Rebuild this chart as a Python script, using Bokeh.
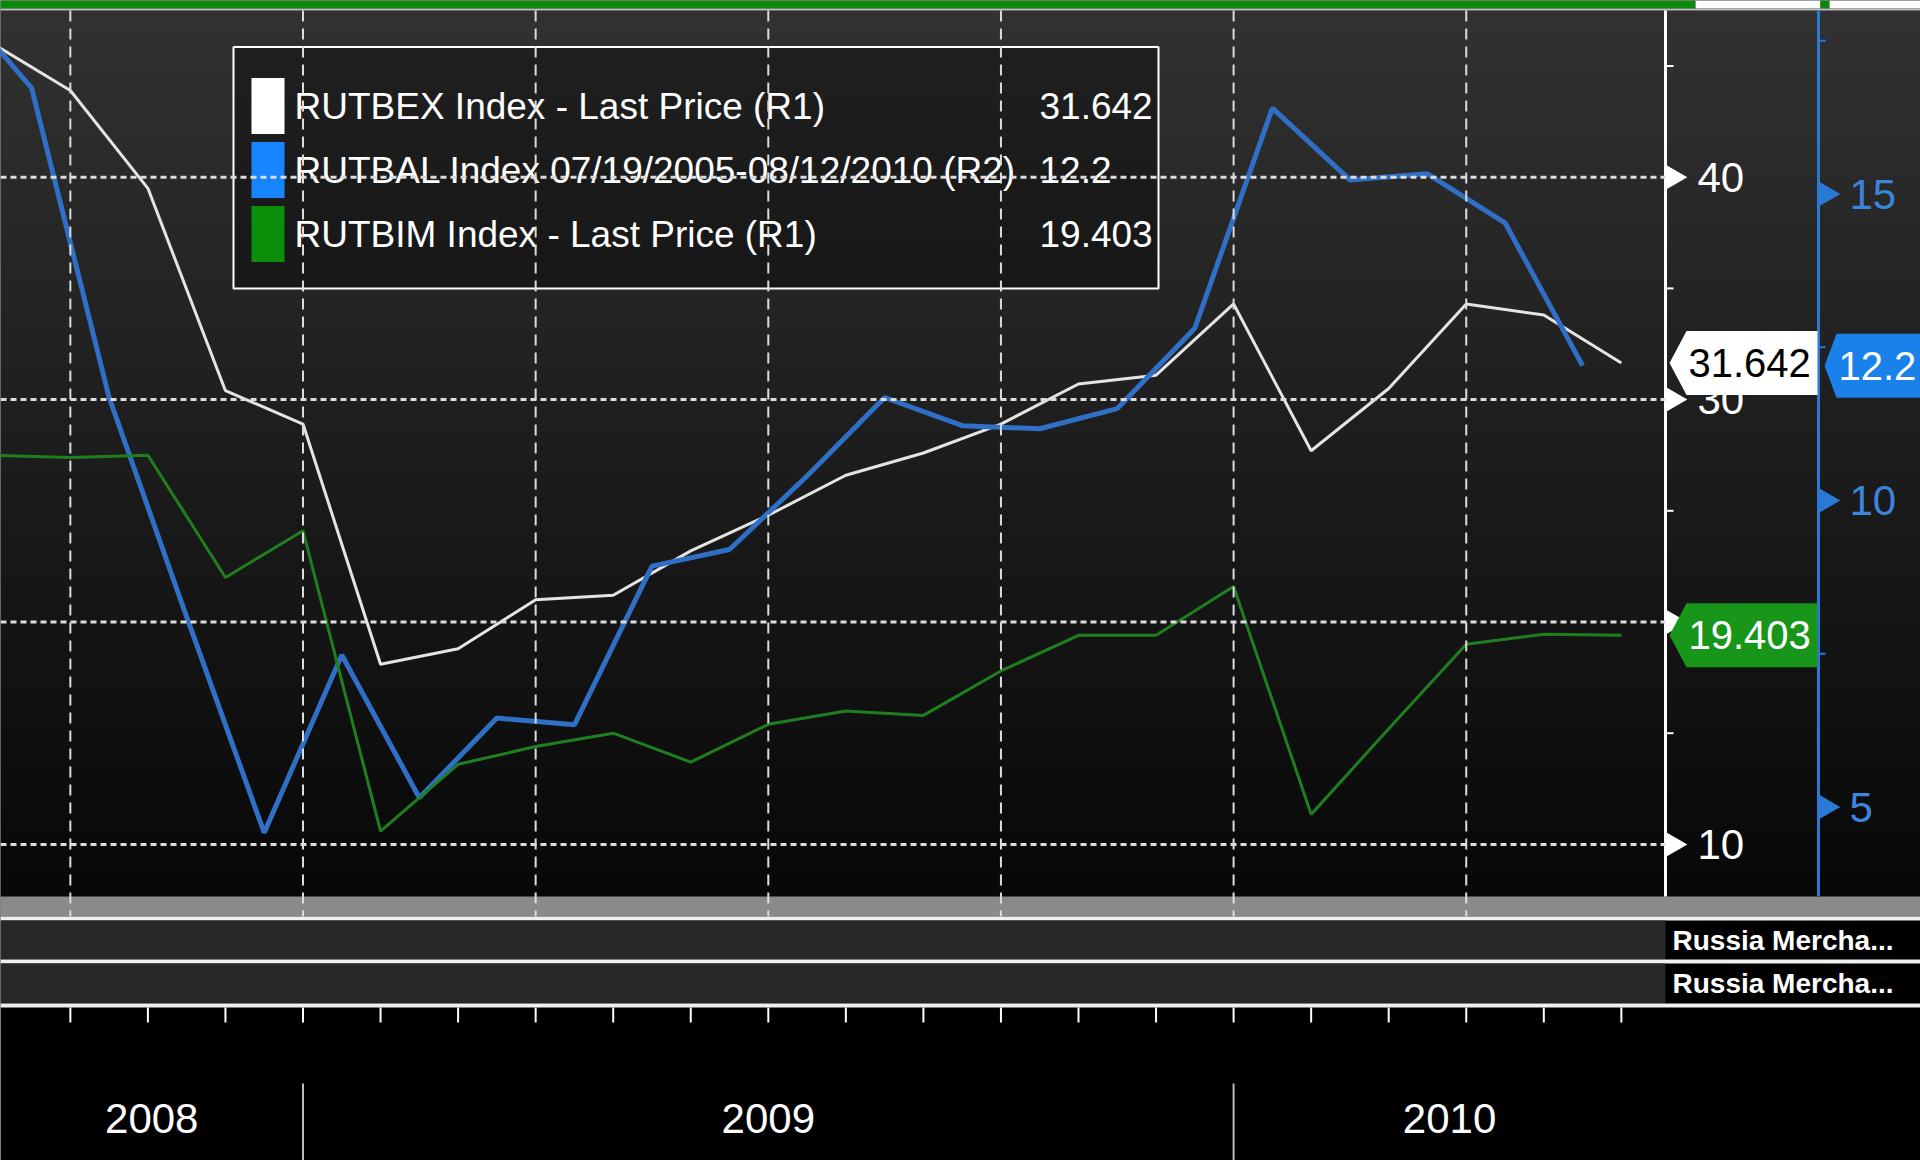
import numpy as np
from bokeh.plotting import figure
from bokeh.models import Range1d
from bokeh.core.properties import value
from bokeh.embed import file_html
from bokeh.resources import INLINE

# ---------------- data ----------------
months = ["2008-09-01", "2008-10-01", "2008-11-01", "2008-12-01",
          "2009-01-01", "2009-02-01", "2009-03-01", "2009-04-01", "2009-05-01", "2009-06-01",
          "2009-07-01", "2009-08-01", "2009-09-01", "2009-10-01", "2009-11-01", "2009-12-01",
          "2010-01-01", "2010-02-01", "2010-03-01", "2010-04-01", "2010-05-01", "2010-06-01"]
rutbex = [46.0, 43.9, 39.5, 30.4, 28.9, 18.1, 18.8, 21.0, 21.2, 23.2, 24.8,
          26.6, 27.6, 28.9, 30.7, 31.1, 34.3, 27.7, 30.5, 34.3, 33.8, 31.642]
rutbim = [27.5, 27.4, 27.5, 22.0, 24.1, 10.6, 13.6, 14.4, 15.0, 13.7, 15.4,
          16.0, 15.8, 17.8, 19.4, 19.4, 21.6, 11.35, 15.2, 19.0, 19.45, 19.403]
rutbal_dates = ["2008-08-16", "2008-09-16", "2008-10-16", "2008-11-16", "2008-12-16",
                "2009-01-16", "2009-02-16", "2009-03-16", "2009-04-16", "2009-05-16",
                "2009-06-16", "2009-07-16", "2009-08-16", "2009-09-16", "2009-10-16",
                "2009-11-16", "2009-12-16", "2010-01-16", "2010-02-16", "2010-03-16",
                "2010-04-16", "2010-05-16"]
rutbal = [18.2, 16.73, 11.68, 8.1, 4.58, 7.48, 5.15, 6.45, 6.34, 8.93, 9.2,
          10.4, 11.68, 11.22, 11.17, 11.5, 12.81, 16.4, 15.23, 15.33, 14.53, 12.2]
r1_ticks = [10, 20, 30, 40]
r1_minor = [15, 25, 35, 45]
r2_ticks = [5, 10, 15]
r2_minor = [7.5, 12.5, 17.5]
years = ["2008", "2009", "2010"]
year_starts = ["2009-01-01", "2010-01-01"]
legend_names = ["RUTBEX Index - Last Price (R1)",
                "RUTBAL Index 07/19/2005-08/12/2010 (R2)",
                "RUTBIM Index - Last Price (R1)"]
last_values = ["31.642", "12.2", "19.403"]
panel_labels = ["Russia Mercha...", "Russia Mercha..."]

# ---------------- layout (pixel positions of the picture) ----------------
FONT = "Liberation Sans"
W, H = 1920, 1160
PXM, X0 = 77.55, 302.5            # px per month, pixel of 2009-01-01
R1_PX, R1_AT10 = 22.24, 843.9     # left-hand value scale (R1)
R2_PX, R2_AT10 = 61.3, 500.0      # right-hand value scale (R2)
PLOT_L, PLOT_R, PLOT_T, PLOT_B = 0, 1665, 10, 896
AX2 = 1818


def mpos(d):
    y, m, dd = (int(s) for s in d.split("-"))
    return (y - 2009) * 12 + (m - 1) + (dd - 1) / 30.0


def X(px):
    return (px - X0) / PXM


def Y(py):
    return 10 + (R1_AT10 - py) / R1_PX


def Y2(py):
    return 10 + (R2_AT10 - py) / R2_PX


def py1(v):
    return R1_AT10 - (v - 10) * R1_PX


def py2(v):
    return R2_AT10 - (v - 10) * R2_PX


p = figure(width=W, height=H, output_backend="svg", toolbar_location=None,
           x_range=Range1d(X(0), X(W)), y_range=Range1d(Y(H), Y(0)),
           x_axis_location=None, y_axis_location=None,
           min_border_left=0, min_border_right=0, min_border_top=0, min_border_bottom=0,
           background_fill_color="black", border_fill_color="black",
           outline_line_color=None)
p.extra_y_ranges = {"r2": Range1d(Y2(H), Y2(0))}
p.grid.visible = False

# background gradient of the chart panel
N = 256
grad = np.linspace(0, 1, N).reshape(N, 1)
grays = ["#%02x%02x%02x" % (g, g, g) for g in np.linspace(8, 50, 256).astype(int)]
p.image(image=[grad], x=X(0), y=Y(PLOT_B), dw=X(W) - X(0), dh=Y(PLOT_T) - Y(PLOT_B),
        palette=grays, level="image")


def band(px0, px1, py0, py1_, color, **kw):
    p.quad(left=X(px0), right=X(px1), top=Y(py0), bottom=Y(py1_),
           fill_color=color, line_color=None, **kw)


# top strip
band(0, 1695, 0, 8, "#0a8a0a")
band(1695, 1820, 0, 8, "#ffffff")
band(1820, 1829, 0, 8, "#0a8a0a")
band(1829, W, 0, 8, "#ffffff")
band(0, W, 8, 10, "#c4c4c4")

# lower panels
band(0, W, 896, 916, "#8a8a8a")
band(0, W, 916, 920, "#f0f0f0")
band(0, PLOT_R, 920, 959, "#282828")
band(0, W, 959, 963, "#f0f0f0")
band(0, PLOT_R, 963, 1003, "#282828")
band(0, W, 1003, 1007, "#f0f0f0")

# legend panel
LEG_L, LEG_R, LEG_T, LEG_B = 233, 1158, 46.5, 288
p.quad(left=X(LEG_L), right=X(LEG_R), top=Y(LEG_T), bottom=Y(LEG_B),
       fill_color="black", fill_alpha=0.35, line_color="white", line_width=2)

# ---------------- series ----------------
x_m = [mpos(d) for d in months]
x_b = [mpos(d) for d in rutbal_dates]
p.line(x_m, rutbex, line_color="#e4e4e4", line_width=3)
p.line(x_b, rutbal, y_range_name="r2", line_color="#2f6fc6", line_width=5)
p.line(x_m, rutbim, line_color="#1f7f1f", line_width=3)

# legend entries
ROW0, ROWH, SWH = 105.5, 64, 56
row_c = [ROW0 + i * ROWH for i in range(3)]
swatch_colors = ["#ffffff", "#1685ff", "#0b8f0b"]
p.quad(left=X(251), right=X(284), top=[Y(c - SWH / 2) for c in row_c],
       bottom=[Y(c + SWH / 2) for c in row_c], fill_color=swatch_colors, line_color=None)
p.text(x=X(294), y=[Y(c) for c in row_c], text=legend_names, text_font=value(FONT),
       text_font_size="37px", text_color="white", text_align="left", text_baseline="middle")
p.text(x=X(1039), y=[Y(c) for c in row_c], text=last_values, text_font=value(FONT),
       text_font_size="37px", text_color="white", text_align="left", text_baseline="middle")

# ---------------- right-hand scales ----------------
p.segment(x0=X(PLOT_R), y0=Y(PLOT_T), x1=X(PLOT_R), y1=Y(PLOT_B), line_color="white", line_width=3)
p.segment(x0=X(PLOT_R), y0=r1_minor, x1=X(PLOT_R + 8), y1=r1_minor, line_color="white", line_width=2)
p.scatter(x=X(PLOT_R + 8), y=r1_ticks, marker="triangle", angle=-np.pi / 2, size=24,
          fill_color="white", line_color=None)
p.text(x=X(1697), y=r1_ticks, text=[str(t) for t in r1_ticks], text_font=value(FONT),
       text_font_size="42px", text_color="white", text_align="left", text_baseline="middle")

p.segment(x0=X(AX2), y0=Y(PLOT_T), x1=X(AX2), y1=Y(PLOT_B), line_color="#2a7ad5", line_width=3)
p.segment(x0=X(AX2), y0=r2_minor, x1=X(AX2 + 7), y1=r2_minor, y_range_name="r2",
          line_color="#2a7ad5", line_width=2)
p.scatter(x=X(AX2 + 8), y=r2_ticks, y_range_name="r2", marker="triangle", angle=-np.pi / 2,
          size=24, fill_color="#2a7ad5", line_color=None)
p.text(x=X(1849), y=r2_ticks, y_range_name="r2", text=[str(t) for t in r2_ticks],
       text_font=value(FONT), text_font_size="42px", text_color="#3a86dc",
       text_align="left", text_baseline="middle")

# ---------------- time scale ----------------
p.segment(x0=x_m, y0=Y(1007), x1=x_m, y1=Y(1022), line_color="white", line_width=2)
bnds = [mpos(d) for d in year_starts]
p.segment(x0=bnds, y0=Y(1083), x1=bnds, y1=Y(H), line_color="#bbbbbb", line_width=2)
year_centers = [(X(PLOT_L) + bnds[0]) / 2, (bnds[0] + bnds[1]) / 2, (bnds[1] + X(PLOT_R)) / 2]
p.text(x=year_centers, y=Y(1118), text=years, text_font=value(FONT), text_font_size="42px",
       text_color="white", text_align="center", text_baseline="middle")

p.text(x=X(1672), y=[Y(940), Y(983)], text=panel_labels, text_font=value(FONT),
       text_font_size="28px", text_font_style="bold", text_color="white",
       text_align="left", text_baseline="middle")


# ---------------- last-value flags ----------------
def flag(v, to_px, from_py, tip, body, right, fill, tcol, txt, **kw):
    c = to_px(v)
    h = 32
    p.patch(x=[X(tip), X(body), X(right), X(right), X(body)],
            y=[from_py(c), from_py(c - h), from_py(c - h), from_py(c + h), from_py(c + h)],
            fill_color=fill, line_color=None, **kw)
    p.text(x=X(body + 2), y=v, text=[txt], text_font=value(FONT), text_font_size="40px",
           text_color=tcol, text_align="left", text_baseline="middle", **kw)


flag(float(last_values[0]), py1, Y, 1669, 1686, 1817, "#ffffff", "black", last_values[0])
flag(float(last_values[1]), py2, Y2, 1824, 1836, W + 5, "#1a80ea", "white", last_values[1],
     y_range_name="r2")
flag(float(last_values[2]), py1, Y, 1669, 1686, 1817, "#17961a", "white", last_values[2])

# ---------------- grid (drawn over everything inside the chart panel) ----------------
quarters = [mpos(d) for d in months if int(d[5:7]) in (1, 4, 7, 10)]
p.segment(x0=quarters, y0=Y(PLOT_T), x1=quarters, y1=Y(916), line_color="#dcdcdc",
          line_width=2, line_dash="11 7")
p.segment(x0=X(PLOT_L), y0=r1_ticks, x1=X(PLOT_R), y1=r1_ticks, line_color="#dcdcdc",
          line_width=3, line_dash="6 4")

open("out.html", "w").write(file_html(p, INLINE))
